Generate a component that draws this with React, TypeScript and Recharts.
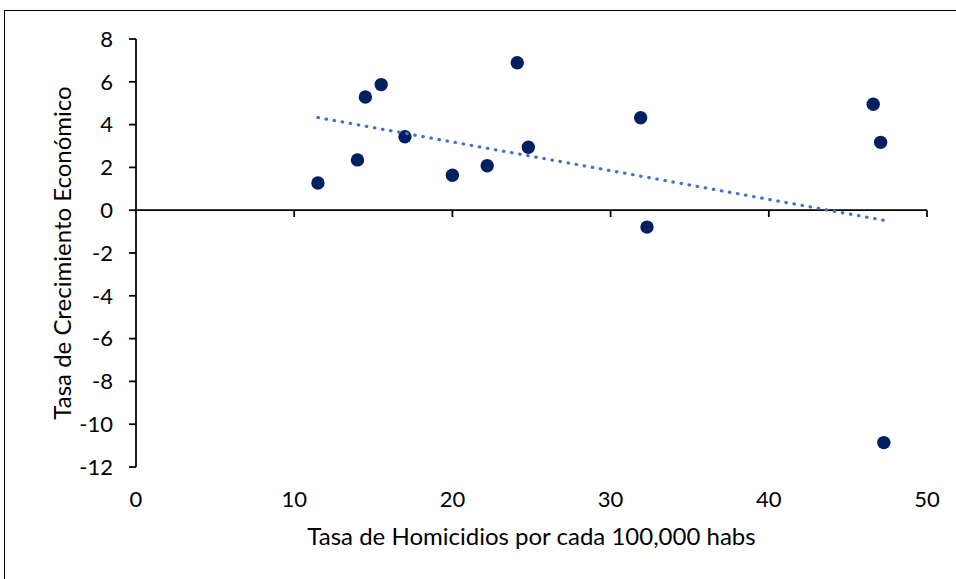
import React from 'react';
import { ScatterChart, Scatter, XAxis, YAxis, ReferenceLine } from 'recharts';

const homicidios = [11.5, 14.0, 14.5, 15.5, 17.0, 20.0, 22.2, 24.1, 24.8, 31.9, 32.3, 46.6, 47.07, 47.27];
const crecimiento = [1.27, 2.35, 5.29, 5.87, 3.43, 1.63, 2.08, 6.89, 2.94, 4.32, -0.79, 4.95, 3.17, -10.86];
const trendX = [11.5, 47.27];
const trendY = [4.33, -0.47];
const xTicks = [0, 10, 20, 30, 40, 50];
const yTicks = [-12, -10, -8, -6, -4, -2, 0, 2, 4, 6, 8];

const points = homicidios.map((x, i) => ({ x, y: crecimiento[i] }));
const trend = trendX.map((x, i) => ({ x, y: trendY[i] }));

const FONT = 'Lato, "Open Sans", sans-serif';
const tickStyle = { fill: '#000', fontSize: 22, fontFamily: FONT };
const titleStyle = { fill: '#000', fontSize: 24, fontFamily: FONT };

const Empty = () => <g />;
const Dot = (props: any) => <circle cx={props.cx} cy={props.cy} r={6.7} fill="#002060" />;

export default function App() {
  return (
    <div style={{ position: 'absolute', left: 0, top: 0, width: 956, height: 579, background: '#fff' }}>
      <div style={{ position: 'absolute', left: 4, top: 10, width: 960, height: 600, borderLeft: '1.5px solid #000', borderTop: '1.5px solid #000' }} />
      <div style={{ position: 'absolute', left: 0, top: 0 }}>
        <ScatterChart width={956} height={579} margin={{ top: 39, right: 29, bottom: 22, left: 30 }}>
          <XAxis
            type="number"
            dataKey="x"
            domain={[0, 50]}
            ticks={xTicks}
            axisLine={false}
            tickLine={false}
            tickSize={0}
            tickMargin={24}
            tick={tickStyle}
            height={90}
            interval={0}
            label={{ value: 'Tasa de Homicidios por cada 100,000 habs', position: 'insideBottom', offset: 12, style: titleStyle }}
          />
          <YAxis
            type="number"
            dataKey="y"
            domain={[-12, 8]}
            ticks={yTicks}
            width={106}
            interval={0}
            axisLine={{ stroke: '#000', strokeWidth: 1.75 }}
            tickLine={{ stroke: '#000', strokeWidth: 1.75 }}
            tickSize={7}
            tickMargin={16}
            tick={tickStyle}
            label={{ value: 'Tasa de Crecimiento Económico', angle: -90, position: 'insideLeft', offset: 32, textAnchor: 'middle', style: { ...titleStyle, textAnchor: 'middle' } }}
          />
          <ReferenceLine y={0} stroke="#000" strokeWidth={1.75} />
          {xTicks.slice(1).map((t) => (
            <ReferenceLine key={t} segment={[{ x: t, y: 0 }, { x: t, y: -0.32 }]} stroke="#000" strokeWidth={1.75} />
          ))}
          <Scatter data={points} fill="#002060" shape={Dot} isAnimationActive={false} />
          <Scatter
            data={trend}
            line={{ stroke: '#4472C4', strokeWidth: 3.2, strokeDasharray: '0.5 7.7', strokeLinecap: 'round' }}
            lineType="joint"
            shape={Empty}
            isAnimationActive={false}
          />
        </ScatterChart>
      </div>
    </div>
  );
}
